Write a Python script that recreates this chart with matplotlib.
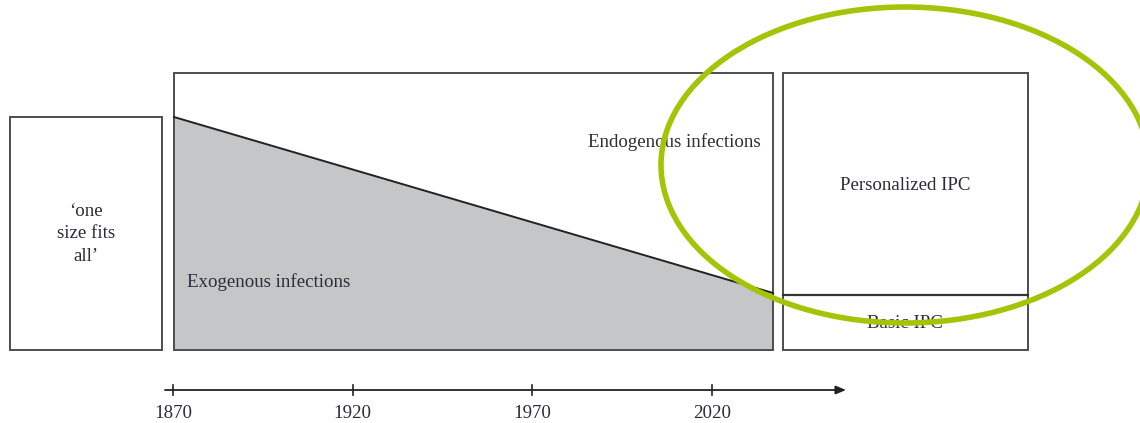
import matplotlib
matplotlib.use("Agg")
import matplotlib.pyplot as plt
from matplotlib.patches import Rectangle, Polygon, Ellipse

# ---- data ----
years = [1870, 1920, 1970, 2020]
tick_labels = ["1870", "1920", "1970", "2020"]
left_label = "\u2018one\nsize fits\nall\u2019"
exo_label = "Exogenous infections"
endo_label = "Endogenous infections"
pers_label = "Personalized IPC"
basic_label = "Basic IPC"

# ---- layout (pixel space) ----
W, H = 1140, 423
px0, px_per_year = 173, 3.593
def yr(y):
    return px0 + (y - 1870) * px_per_year

edge = "#4d4d4d"
gray = "#c5c6c8"
green = "#a4c408"
txt = "#2b2b3a"
serif = ["Liberation Serif", "DejaVu Serif"]
fs = 13.6
dy = 2  # small vertical text offset

fig = plt.figure(figsize=(W / 100, H / 100), dpi=100)
ax = fig.add_axes([0, 0, 1, 1])
ax.set_xlim(0, W)
ax.set_ylim(H, 0)
ax.axis("off")

# left box
ax.add_patch(Rectangle((10, 117), 152, 233, fill=False, ec=edge, lw=1.4))
ax.text(86, 232 + dy, left_label, ha="center", va="center", fontsize=fs,
        family=serif, color=txt, linespacing=1.45)

# main box with gray exogenous area
ax.add_patch(Polygon([(174, 117), (773, 293), (773, 350), (174, 350)],
                     closed=True, fc=gray, ec="none"))
ax.plot([174, 773], [117, 293], color="#222222", lw=1.4)
ax.add_patch(Rectangle((174, 73), 599, 277, fill=False, ec=edge, lw=1.4))
ax.text(187, 280 + dy, exo_label, ha="left", va="center", fontsize=fs,
        family=serif, color=txt)
ax.text(588, 140 + dy, endo_label, ha="left", va="center", fontsize=fs,
        family=serif, color=txt)

# right box
ax.add_patch(Rectangle((783, 73), 245, 277, fill=False, ec=edge, lw=1.4))
ax.plot([783, 1028], [295, 295], color="#333333", lw=1.6)
ax.text(905, 183 + dy, pers_label, ha="center", va="center", fontsize=fs,
        family=serif, color=txt)
ax.text(905, 322 + dy, basic_label, ha="center", va="center", fontsize=fs,
        family=serif, color=txt)

# timeline
ty = 390
ax.annotate("", xy=(846, ty), xytext=(165, ty),
            arrowprops=dict(arrowstyle="-|>,head_length=0.6,head_width=0.25",
                            color="#222222", lw=1.3, shrinkA=0, shrinkB=0))
for y, lab in zip(years, tick_labels):
    x = yr(y)
    ax.plot([x, x], [ty - 5, ty + 5], color="#222222", lw=1.2)
    ax.text(x, 411 + dy, lab, ha="center", va="center", fontsize=fs,
            family=serif, color=txt)

# highlight ellipse
ax.add_patch(Ellipse((905, 165), 488, 316, fill=False, ec=green, lw=4.0,
                     zorder=10))

fig.savefig("out.png", dpi=100)
